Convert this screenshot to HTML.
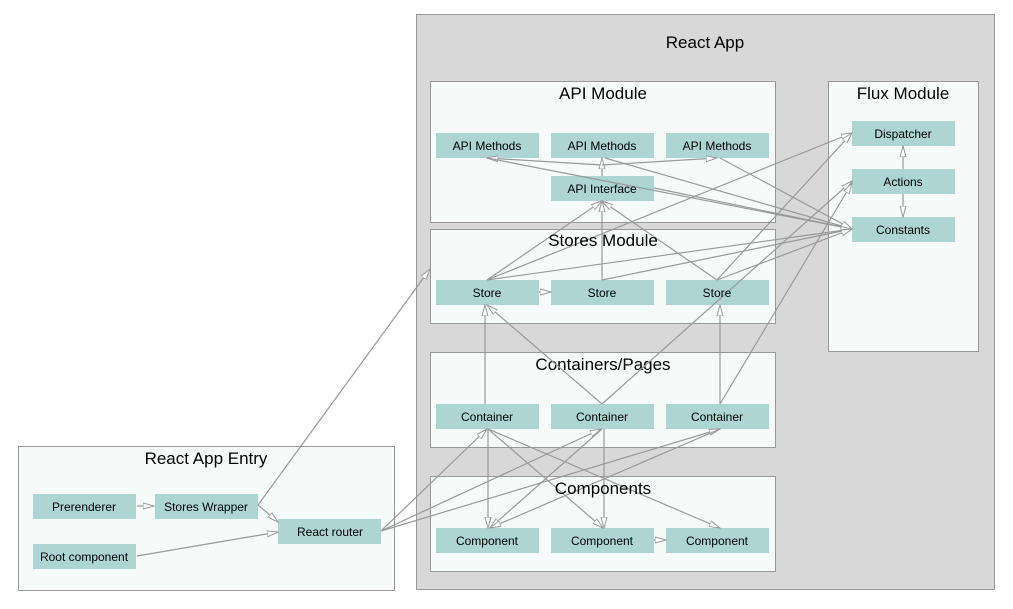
<!DOCTYPE html>
<html><head><meta charset="utf-8"><style>
html,body{margin:0;padding:0;background:#fff;}
svg{display:block;font-family:"Liberation Sans",sans-serif;}
.c{fill:#f6fbfa;stroke:#999;stroke-width:1}
.n{fill:#acd5d3}
.t{font-size:12px;fill:#000;text-anchor:middle}
.h{font-size:17px;fill:#000;text-anchor:middle}
.e{stroke:#999;stroke-width:1.2;fill:none;marker-end:url(#a)}
</style></head><body>
<svg width="1013" height="609" viewBox="0 0 1013 609">
<defs><marker id="a" markerWidth="12" markerHeight="8" refX="11" refY="4" orient="auto" markerUnits="userSpaceOnUse">
<path d="M0,1 L11,4 L0,7 Z" fill="#fff" stroke="#999" stroke-width="1"/></marker></defs>
<rect x="416.5" y="14.5" width="578" height="575" fill="#d8d8d8" stroke="#999"/>
<text class="h" x="705" y="48">React App</text>
<rect class="c" x="430.5" y="81.5" width="345" height="141"/>
<text class="h" x="603" y="99">API Module</text>
<rect class="c" x="430.5" y="229.5" width="345" height="94"/>
<rect class="c" x="430.5" y="352.5" width="345" height="95"/>
<text class="h" x="603" y="370">Containers/Pages</text>
<rect class="c" x="430.5" y="476.5" width="345" height="95"/>
<rect class="c" x="828.5" y="81.5" width="150" height="270"/>
<text class="h" x="903" y="99">Flux Module</text>
<rect class="c" x="18.5" y="446.5" width="376" height="144"/>
<text class="h" x="206" y="464">React App Entry</text>

<g class="n">
<rect x="436" y="133" width="103" height="25"/><rect x="551" y="133" width="103" height="25"/><rect x="666" y="133" width="103" height="25"/>
<rect x="551" y="176" width="103" height="25"/>
<rect x="436" y="280" width="103" height="25"/><rect x="551" y="280" width="103" height="25"/><rect x="666" y="280" width="103" height="25"/>
<rect x="436" y="404" width="103" height="25"/><rect x="551" y="404" width="103" height="25"/><rect x="666" y="404" width="103" height="25"/>
<rect x="436" y="528" width="103" height="25"/><rect x="551" y="528" width="103" height="25"/><rect x="666" y="528" width="103" height="25"/>
<rect x="852" y="121" width="103" height="25"/><rect x="852" y="169" width="103" height="25"/><rect x="852" y="217" width="103" height="25"/>
<rect x="33" y="494" width="103" height="25"/><rect x="155" y="494" width="103" height="25"/><rect x="278" y="519" width="103" height="25"/><rect x="33" y="544" width="103" height="25"/>
</g>

<g>
<path class="e" d="M137,506 L154,506"/>
<path class="e" d="M258,505 L278,522"/>
<path class="e" d="M137,556 L278,532"/>
<path class="e" d="M258,505 L430,269"/>
<path class="e" d="M381,531 L487,429"/>
<path class="e" d="M381,531 L601,429"/>
<path class="e" d="M381,531 L720,429"/>
<path class="e" d="M485,404 L485,305"/>
<path class="e" d="M602,404 L487,305"/>
<path class="e" d="M720,404 L720,305"/>
<path class="e" d="M602,404 L852,181"/>
<path class="e" d="M720,404 L852,183"/>
<path class="e" d="M488,429 L488,528"/>
<path class="e" d="M488,429 L603,528"/>
<path class="e" d="M488,429 L720,528"/>
<path class="e" d="M602,429 L490,528"/>
<path class="e" d="M720,429 L490,528"/>
<path class="e" d="M604,429 L604,528"/>
<path class="e" d="M654,540 L666,540"/>
<path class="e" d="M539,292 L551,292"/>
<path class="e" d="M487,280 L602,201"/>
<path class="e" d="M602,280 L602,201"/>
<path class="e" d="M717,280 L602,201"/>
<path class="e" d="M487,280 L852,229"/>
<path class="e" d="M602,280 L852,229"/>
<path class="e" d="M717,280 L852,229"/>
<path class="e" d="M487,280 L852,133"/>
<path class="e" d="M717,280 L852,133"/>
<path class="e" d="M602,165 L487,158"/>
<path class="e" d="M602,176 L602,158"/>
<path class="e" d="M602,165 L717,158"/>
<path class="e" d="M487,158 L852,229"/>
<path class="e" d="M605,158 L852,229"/>
<path class="e" d="M654,188 L852,229"/>
<path class="e" d="M720,158 L852,229"/>
<path class="e" d="M903,169 L903,146"/>
<path class="e" d="M903,194 L903,217"/>
</g>

<text class="h" x="603" y="246">Stores Module</text>
<text class="h" x="603" y="494">Components</text>
<g class="t">
<text class="t" x="487" y="150">API Methods</text><text class="t" x="602" y="150">API Methods</text><text class="t" x="717" y="150">API Methods</text>
<text class="t" x="602" y="193">API Interface</text>
<text class="t" x="487" y="297">Store</text><text class="t" x="602" y="297">Store</text><text class="t" x="717" y="297">Store</text>
<text class="t" x="487" y="421">Container</text><text class="t" x="602" y="421">Container</text><text class="t" x="717" y="421">Container</text>
<text class="t" x="487" y="545">Component</text><text class="t" x="602" y="545">Component</text><text class="t" x="717" y="545">Component</text>
<text class="t" x="903" y="138">Dispatcher</text><text class="t" x="903" y="186">Actions</text><text class="t" x="903" y="234">Constants</text>
<text class="t" x="84" y="511">Prerenderer</text><text class="t" x="206" y="511">Stores Wrapper</text><text class="t" x="330" y="536">React router</text><text class="t" x="84" y="561">Root component</text>
</g>
</svg>
</body></html>
